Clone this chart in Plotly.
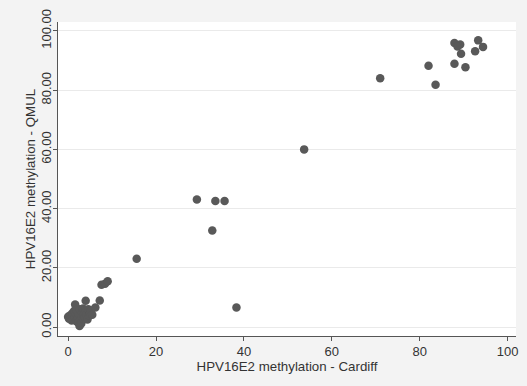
import plotly.graph_objects as go

cardiff = [0.0, 0.2, 0.5, 0.6, 0.8, 1.0, 1.0, 1.2, 1.4, 1.5, 1.6, 1.8, 1.9, 2.0, 2.2, 2.3,
           2.5, 2.6, 2.7, 2.8, 3.0, 3.0, 3.2, 3.4, 3.5, 3.6, 3.8, 4.0, 4.0, 4.2, 4.4, 4.6,
           4.8, 5.0, 5.2, 5.5, 6.2, 7.2, 7.6, 8.4, 9.0,
           15.6, 29.3, 33.5, 35.6, 32.8, 38.3, 53.7,
           71.0, 82.0, 83.6, 87.9, 90.4, 87.9, 89.2, 88.6, 89.4, 93.3, 94.4, 92.6]
qmul = [3.5, 2.8, 4.0, 3.0, 2.2, 3.6, 4.8, 2.6, 5.5, 3.2, 7.6, 4.4, 2.0, 5.8, 3.0, 1.5,
        4.0, 0.4, 6.0, 2.4, 3.6, 1.2, 5.0, 6.3, 2.8, 4.2, 3.3, 8.9, 5.6, 4.4, 2.6, 6.0,
        3.8, 4.8, 5.6, 4.2, 6.6, 9.0, 14.3, 14.6, 15.5,
        23.1, 43.1, 42.6, 42.6, 32.6, 6.6, 60.0,
        84.0, 88.2, 81.8, 88.9, 87.7, 95.9, 95.4, 94.7, 92.3, 96.8, 94.6, 93.1]

x_ticks = [0, 20, 40, 60, 80, 100]
y_ticks = [0, 20, 40, 60, 80, 100]

fig = go.Figure()
fig.add_trace(go.Scatter(
    x=cardiff, y=qmul, mode="markers",
    marker=dict(size=8.5, color="#595959", line=dict(width=0)),
    showlegend=False,
))

font_family = "Liberation Sans, Arial, sans-serif"

fig.update_layout(
    width=527, height=386,
    margin=dict(l=58, r=9, t=18, b=50),
    paper_bgcolor="#f3f3f3",
    plot_bgcolor="#ffffff",
    font=dict(family=font_family, size=13, color="#333333"),
    xaxis=dict(
        range=[-2.3, 101.9],
        tickvals=x_ticks,
        ticktext=[str(v) for v in x_ticks],
        showgrid=False, zeroline=False,
        showline=True, linecolor="#555555", linewidth=1,
        ticks="outside", ticklen=4, tickcolor="#555555",
        ticklabelstandoff=-1,
        tickfont=dict(size=13, color="#333333"),
        title=dict(text="HPV16E2 methylation - Cardiff", standoff=0,
                   font=dict(size=13.3, color="#333333")),
    ),
    yaxis=dict(
        range=[-3, 103],
        tickvals=y_ticks,
        ticktext=["%.2f" % v for v in y_ticks],
        tickangle=-90,
        showgrid=True, gridcolor="#eaeaea", gridwidth=1,
        zeroline=False,
        showline=True, linecolor="#555555", linewidth=1,
        ticks="outside", ticklen=4, tickcolor="#555555",
        ticklabelstandoff=-3,
        tickfont=dict(size=13, color="#333333"),
        title=dict(text="HPV16E2 methylation - QMUL", standoff=0,
                   font=dict(size=13.3, color="#333333")),
    ),
)

fig.write_html("out.html")
